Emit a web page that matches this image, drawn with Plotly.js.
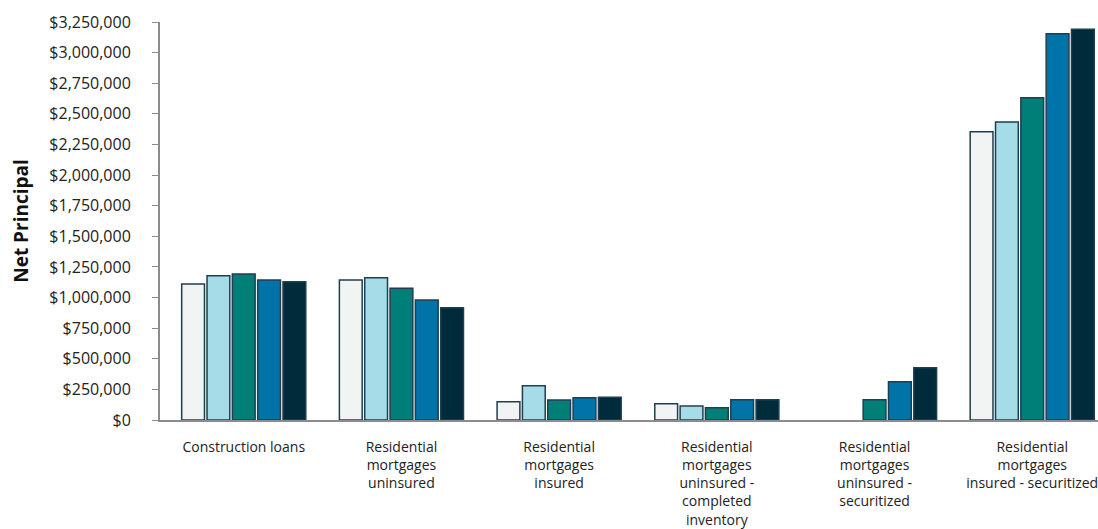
<!DOCTYPE html>
<html>
<head>
<meta charset="utf-8">
<script src="https://cdn.plot.ly/plotly-3.0.1.min.js"></script>
<style>html,body{margin:0;padding:0;background:#fff;}#chart{width:1098px;height:529px;}</style>
</head>
<body>
<div id="chart"></div>
<script>
const categories = [
  "Construction loans",
  "Residential<br>mortgages<br>uninsured",
  "Residential<br>mortgages<br>insured",
  "Residential<br>mortgages<br>uninsured -<br>completed<br>inventory",
  "Residential<br>mortgages<br>uninsured -<br>securitized",
  "Residential<br>mortgages<br>insured - securitized"
];
const series1 = [1110000, 1143000, 149000, 133000, null, 2354000];
const series2 = [1178000, 1162000, 280000, 114000, null, 2433000];
const series3 = [1192000, 1075000, 163000, 100000, 166000, 2632000];
const series4 = [1143000, 980000, 182000, 166000, 313000, 3155000];
const series5 = [1129000, 917000, 185000, 166000, 427000, 3190000];
const seriesNames = ["Series 1", "Series 2", "Series 3", "Series 4", "Series 5"];
const colors = ["#F2F4F3", "#A6DCE8", "#007E78", "#0073A8", "#002B3A"];
const tickVals = [0,250000,500000,750000,1000000,1250000,1500000,1750000,2000000,2250000,2500000,2750000,3000000,3250000];
const tickText = ["$0","$250,000","$500,000","$750,000","$1,000,000","$1,250,000","$1,500,000","$1,750,000","$2,000,000","$2,250,000","$2,500,000","$2,750,000","$3,000,000","$3,250,000"];

const allSeries = [series1, series2, series3, series4, series5];
const traces = allSeries.map((vals, i) => ({
  type: "bar",
  name: seriesNames[i],
  x: categories,
  y: vals,
  marker: {color: colors[i], line: {color: "#1F3F50", width: 1.5}},
  hoverinfo: "y"
}));

const layout = {
  width: 1098, height: 529,
  margin: {l: 160, r: 0, t: 22, b: 109, pad: 0},
  paper_bgcolor: "#ffffff", plot_bgcolor: "#ffffff",
  showlegend: false,
  barmode: "group",
  bargap: 0.197,
  bargroupgap: 0.1,
  font: {family: "Open Sans, sans-serif", color: "#222222"},
  xaxis: {
    type: "category",
    range: [-0.531, 5.417],
    showgrid: false, zeroline: false,
    showline: true, linecolor: "#8C8C8C", linewidth: 2,
    ticks: "", ticklabelstandoff: 13,
    tickfont: {size: 14, family: "Open Sans, sans-serif", color: "#222222"},
    tickangle: 0
  },
  yaxis: {
    range: [0, 3250000],
    tickvals: tickVals, ticktext: tickText,
    showgrid: false, zeroline: false,
    showline: true, linecolor: "#8C8C8C", linewidth: 2,
    ticks: "outside", ticklen: 6, tickcolor: "#8C8C8C", tickwidth: 1,
    ticklabelstandoff: 18,
    tickfont: {size: 16, family: "Open Sans, sans-serif", color: "#222222"},
    title: {text: "Net Principal", font: {size: 19, family: "Open Sans, sans-serif", color: "#111111", weight: "bold"}, standoff: 16}
  }
};

Plotly.newPlot("chart", traces, layout, {displayModeBar: false, staticPlot: true});
</script>
</body>
</html>
